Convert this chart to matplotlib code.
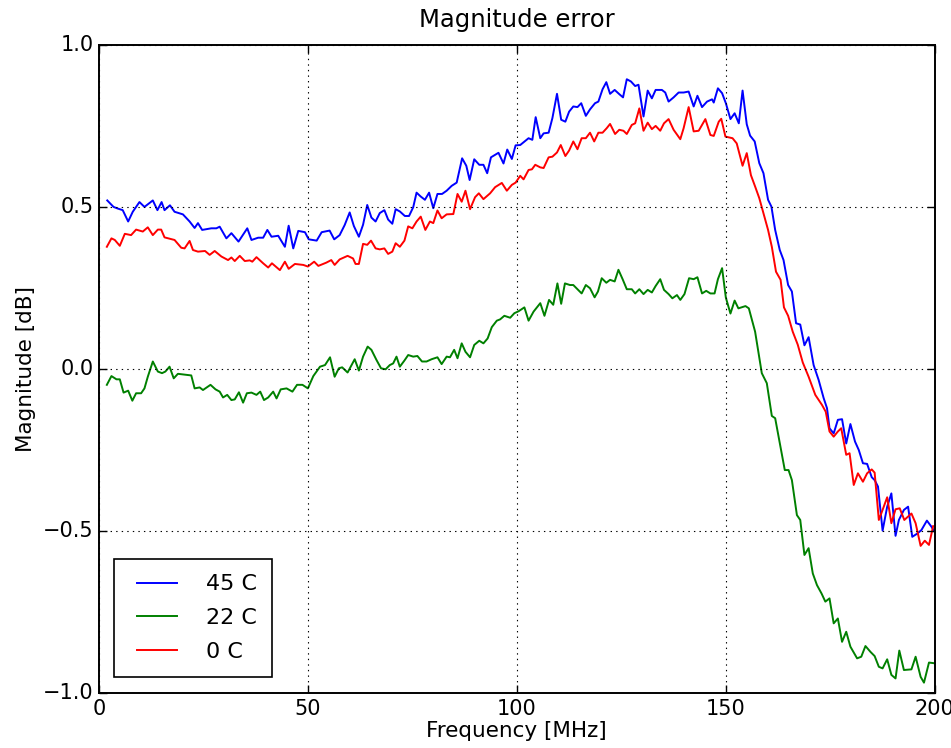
import numpy as np
import matplotlib
matplotlib.use("Agg")
import matplotlib.pyplot as plt

# Magnitude error vs frequency at three temperatures
freq_45 = [2.0, 3.5, 4.5, 5.7, 7.0, 8.1, 9.7, 10.9, 12.9, 14.0, 15.0, 15.7, 17.0, 18.1, 20.1, 21.7,
           22.9, 23.7, 24.7, 26.9, 28.1, 28.9, 30.5, 31.7, 33.4, 35.5, 36.5, 38.1, 39.3, 40.3, 41.3,
           42.9, 44.5, 45.4, 46.5, 47.7, 49.3, 50.2, 52.1, 53.3, 55.2, 56.3, 57.6, 58.8, 60.0, 61.0,
           62.2, 63.2, 64.2, 65.2, 66.2, 67.2, 68.3, 69.2, 70.2, 71.0, 72.0, 73.2, 74.2, 75.2, 76.0,
           77.0, 78.0, 79.0, 80.0, 81.0, 82.1, 83.2, 84.4, 85.6, 86.9, 87.9, 88.7, 89.8, 91.0, 92.0,
           92.9, 93.8, 95.6, 96.8, 97.7, 98.8, 99.7, 100.8, 102.8, 103.7, 104.5, 105.6, 106.4, 107.6,
           108.5, 109.6, 110.6, 111.6, 112.5, 113.5, 114.5, 115.4, 116.5, 117.5, 118.7, 119.5, 120.5,
           121.4, 122.3, 123.4, 124.5, 125.4, 126.3, 127.3, 128.3, 129.1, 130.3, 131.3, 132.3, 133.2,
           134.7, 135.5, 136.3, 137.5, 138.7, 139.9, 141.1, 142.3, 143.2, 144.3, 145.5, 146.7, 147.1,
           148.1, 149.1, 150.0, 151.1, 152.1, 153.1, 154.0, 155.0, 155.8, 156.9, 158.0, 159.0, 160.1,
           160.9, 161.8, 162.9, 163.8, 164.9, 165.8, 166.8, 167.8, 168.8, 169.8, 171.0, 172.2, 173.4,
           174.2, 174.8, 175.8, 176.8, 177.8, 178.8, 179.8, 180.9, 181.8, 182.8, 183.8, 184.9, 185.6,
           186.4, 187.5, 188.6, 189.6, 190.6, 191.4, 192.6, 193.6, 194.6, 195.8, 196.8, 198.1, 199.2,
           199.8]
mag_45 = [0.52, 0.50, 0.495, 0.49, 0.455, 0.485, 0.515, 0.50, 0.52, 0.49, 0.515, 0.49, 0.505, 0.485,
          0.477, 0.455, 0.435, 0.45, 0.429, 0.434, 0.434, 0.439, 0.403, 0.419, 0.393, 0.434, 0.398,
          0.405, 0.405, 0.429, 0.408, 0.411, 0.377, 0.442, 0.372, 0.426, 0.422, 0.40, 0.396, 0.422,
          0.427, 0.40, 0.413, 0.444, 0.483, 0.441, 0.408, 0.445, 0.506, 0.467, 0.455, 0.481, 0.49,
          0.461, 0.448, 0.493, 0.486, 0.472, 0.472, 0.499, 0.544, 0.532, 0.522, 0.544, 0.496, 0.54,
          0.54, 0.55, 0.565, 0.575, 0.65, 0.627, 0.583, 0.647, 0.63, 0.63, 0.604, 0.653, 0.667, 0.634,
          0.677, 0.648, 0.69, 0.691, 0.712, 0.707, 0.777, 0.712, 0.727, 0.729, 0.774, 0.849, 0.769,
          0.763, 0.794, 0.81, 0.808, 0.82, 0.781, 0.801, 0.82, 0.825, 0.863, 0.885, 0.849, 0.861,
          0.848, 0.838, 0.894, 0.887, 0.873, 0.877, 0.779, 0.859, 0.835, 0.861, 0.861, 0.853, 0.825,
          0.838, 0.853, 0.853, 0.856, 0.81, 0.843, 0.808, 0.825, 0.832, 0.822, 0.866, 0.851, 0.82,
          0.771, 0.789, 0.758, 0.859, 0.755, 0.72, 0.702, 0.635, 0.604, 0.522, 0.501, 0.429, 0.367,
          0.336, 0.259, 0.239, 0.141, 0.137, 0.073, 0.098, 0.012, -0.034, -0.09, -0.121, -0.183,
          -0.199, -0.157, -0.155, -0.23, -0.17, -0.224, -0.25, -0.291, -0.293, -0.334, -0.343,
          -0.363, -0.499, -0.425, -0.384, -0.515, -0.466, -0.435, -0.425, -0.518, -0.508, -0.497,
          -0.468, -0.487, -0.50]

freq_22 = [1.9, 3.0, 4.2, 5.0, 5.9, 7.0, 8.0, 8.9, 10.1, 10.9, 11.7, 12.9, 14.1, 15.1, 15.9, 16.9,
           17.9, 18.9, 21.3, 22.1, 22.9, 24.1, 24.9, 26.7, 27.9, 28.9, 29.7, 30.7, 31.7, 32.5, 33.5,
           34.5, 35.4, 36.5, 37.7, 38.6, 39.5, 40.5, 41.7, 42.5, 43.5, 44.9, 46.3, 47.4, 48.7, 50.0,
           51.3, 52.9, 54.1, 55.3, 56.4, 57.4, 58.2, 59.5, 61.2, 62.2, 63.2, 64.3, 65.2, 66.4, 67.5,
           68.6, 69.6, 70.4, 71.2, 72.0, 73.1, 74.0, 75.2, 76.2, 77.3, 78.4, 79.6, 81.0, 82.0, 83.2,
           84.0, 85.0, 85.8, 86.8, 87.7, 88.8, 89.8, 91.0, 92.0, 93.0, 94.0, 95.2, 96.0, 97.0, 98.4,
           99.4, 100.4, 101.8, 102.8, 104.0, 105.6, 106.6, 107.7, 108.7, 109.7, 110.6, 111.5, 112.7,
           113.5, 115.5, 116.5, 117.5, 118.6, 119.4, 120.3, 121.4, 122.3, 123.4, 124.3, 125.3, 126.3,
           127.5, 128.3, 129.3, 130.3, 131.3, 132.3, 133.2, 134.3, 135.2, 136.3, 137.2, 138.3, 139.1,
           140.1, 141.2, 142.3, 143.2, 144.3, 145.3, 146.3, 147.3, 148.1, 149.1, 150.0, 151.1, 152.1,
           153.0, 154.7, 155.5, 157.0, 158.6, 159.8, 161.0, 161.8, 163.0, 164.1, 165.0, 165.8, 167.0,
           167.8, 168.8, 169.8, 170.8, 171.8, 172.9, 173.8, 174.8, 175.8, 176.8, 177.8, 178.8, 179.8,
           181.4, 182.4, 183.4, 184.6, 185.6, 186.6, 187.5, 188.6, 189.6, 190.6, 191.5, 192.6, 194.4,
           195.4, 196.6, 197.4, 198.6, 199.8]
mag_22 = [-0.049, -0.022, -0.032, -0.032, -0.073, -0.067, -0.098, -0.075, -0.075, -0.06, -0.024,
          0.023, -0.008, -0.013, -0.008, 0.007, -0.029, -0.015, -0.019, -0.02, -0.06, -0.057, -0.065,
          -0.049, -0.063, -0.07, -0.088, -0.08, -0.096, -0.094, -0.072, -0.104, -0.075, -0.073, -0.08,
          -0.07, -0.096, -0.088, -0.07, -0.091, -0.063, -0.06, -0.07, -0.049, -0.049, -0.06, -0.022,
          0.007, 0.012, 0.036, -0.024, 0.002, 0.005, -0.011, 0.03, -0.005, 0.038, 0.069, 0.059, 0.028,
          0.002, -0.001, 0.012, 0.017, 0.038, 0.007, 0.026, 0.043, 0.038, 0.04, 0.023, 0.023, 0.03,
          0.036, 0.015, 0.038, 0.036, 0.059, 0.033, 0.079, 0.053, 0.036, 0.074, 0.087, 0.079, 0.094,
          0.129, 0.149, 0.153, 0.164, 0.158, 0.172, 0.178, 0.19, 0.149, 0.177, 0.203, 0.164, 0.213,
          0.198, 0.264, 0.201, 0.264, 0.259, 0.259, 0.233, 0.259, 0.249, 0.221, 0.239, 0.28, 0.266,
          0.275, 0.27, 0.306, 0.277, 0.246, 0.246, 0.233, 0.246, 0.231, 0.244, 0.236, 0.256, 0.277,
          0.244, 0.231, 0.218, 0.228, 0.213, 0.231, 0.28, 0.277, 0.283, 0.233, 0.241, 0.233, 0.233,
          0.277, 0.311, 0.22, 0.171, 0.211, 0.187, 0.194, 0.187, 0.115, -0.013, -0.044, -0.145,
          -0.152, -0.235, -0.312, -0.312, -0.343, -0.451, -0.466, -0.574, -0.553, -0.631, -0.667,
          -0.693, -0.718, -0.708, -0.785, -0.77, -0.842, -0.811, -0.857, -0.893, -0.888, -0.855,
          -0.873, -0.886, -0.919, -0.924, -0.896, -0.944, -0.955, -0.869, -0.929, -0.927, -0.888,
          -0.95, -0.968, -0.906, -0.908]

freq_0 = [1.9, 3.0, 3.8, 5.0, 6.2, 7.7, 8.9, 10.5, 11.7, 12.9, 14.1, 14.9, 15.7, 18.1, 19.7, 20.5,
          21.7, 22.5, 23.7, 25.4, 26.5, 27.7, 29.3, 30.9, 31.7, 32.5, 33.7, 34.9, 36.1, 36.7, 37.7,
          39.3, 40.5, 41.4, 43.3, 44.5, 45.4, 46.9, 48.9, 50.0, 51.5, 52.5, 54.4, 55.6, 56.4, 57.6,
          59.5, 60.8, 61.4, 62.2, 63.2, 64.2, 65.1, 66.2, 67.2, 68.3, 69.2, 70.2, 71.0, 72.0, 73.1,
          74.0, 75.0, 76.0, 77.0, 78.1, 79.2, 80.0, 81.0, 82.0, 83.2, 84.8, 85.8, 86.8, 87.7, 88.8,
          90.0, 90.9, 92.0, 93.6, 94.8, 96.4, 97.6, 98.8, 99.7, 100.8, 101.6, 102.8, 103.6, 104.4,
          105.6, 106.4, 107.6, 108.5, 109.6, 110.5, 111.6, 112.5, 113.5, 114.5, 115.5, 116.5, 117.5,
          118.5, 119.5, 120.5, 121.5, 122.3, 123.5, 124.5, 125.5, 126.3, 127.5, 128.3, 129.3, 130.3,
          131.3, 132.3, 133.2, 134.3, 135.2, 136.3, 137.5, 139.1, 139.9, 141.1, 142.3, 143.5, 145.1,
          146.3, 147.1, 148.3, 148.9, 149.9, 151.6, 152.6, 154.0, 155.0, 156.0, 157.0, 158.0, 159.0,
          160.1, 161.0, 162.0, 163.1, 163.9, 164.9, 166.0, 167.2, 168.4, 169.8, 171.4, 173.0, 173.9,
          174.8, 175.8, 176.8, 177.6, 178.8, 179.6, 180.6, 181.6, 182.8, 183.8, 184.9, 185.6, 186.6,
          187.5, 188.6, 189.6, 190.6, 191.6, 192.7, 194.4, 195.4, 196.6, 197.6, 198.6, 199.6]
mag_0 = [0.377, 0.403, 0.398, 0.38, 0.417, 0.413, 0.43, 0.424, 0.437, 0.413, 0.43, 0.43, 0.406,
         0.398, 0.374, 0.372, 0.395, 0.367, 0.362, 0.364, 0.352, 0.364, 0.347, 0.336, 0.344, 0.333,
         0.349, 0.333, 0.335, 0.331, 0.345, 0.326, 0.313, 0.326, 0.305, 0.331, 0.309, 0.324, 0.321,
         0.316, 0.331, 0.318, 0.328, 0.336, 0.321, 0.338, 0.349, 0.341, 0.324, 0.324, 0.386, 0.383,
         0.396, 0.372, 0.369, 0.372, 0.355, 0.362, 0.388, 0.377, 0.396, 0.44, 0.434, 0.455, 0.47,
         0.429, 0.455, 0.45, 0.489, 0.465, 0.477, 0.478, 0.54, 0.516, 0.55, 0.493, 0.53, 0.542, 0.524,
         0.542, 0.561, 0.574, 0.55, 0.568, 0.575, 0.596, 0.585, 0.614, 0.616, 0.63, 0.622, 0.62,
         0.653, 0.655, 0.668, 0.691, 0.657, 0.674, 0.702, 0.678, 0.712, 0.712, 0.729, 0.702, 0.729,
         0.729, 0.743, 0.756, 0.725, 0.738, 0.735, 0.725, 0.753, 0.758, 0.804, 0.735, 0.76, 0.74,
         0.75, 0.735, 0.758, 0.771, 0.738, 0.709, 0.743, 0.808, 0.733, 0.735, 0.771, 0.722, 0.719,
         0.763, 0.772, 0.717, 0.712, 0.696, 0.627, 0.666, 0.598, 0.563, 0.527, 0.48, 0.429, 0.377,
         0.30, 0.275, 0.19, 0.164, 0.115, 0.075, 0.02, -0.024, -0.08, -0.111, -0.132, -0.193, -0.209,
         -0.193, -0.183, -0.265, -0.26, -0.358, -0.322, -0.348, -0.322, -0.31, -0.32, -0.466, -0.435,
         -0.396, -0.476, -0.433, -0.43, -0.466, -0.446, -0.476, -0.546, -0.53, -0.543, -0.485]

series = [(freq_45, mag_45, "b", "45 C"),
          (freq_22, mag_22, "g", "22 C"),
          (freq_0, mag_0, "r", "0 C")]

plt.style.use("classic")
plt.rcParams["figure.facecolor"] = "white"
plt.rcParams["savefig.facecolor"] = "white"

fig = plt.figure(figsize=(9.51, 7.48), dpi=100)
ax = fig.add_axes([0.104, 0.0735, 0.879, 0.8665])

for f, m, c, lab in series:
    ax.plot(np.array(f), np.array(m), color=c, lw=1.4, label=lab)

ax.set_xlim(0, 200)
ax.set_ylim(-1.0, 1.0)
ax.set_xticks([0, 50, 100, 150, 200])
ax.set_yticks([-1.0, -0.5, 0.0, 0.5, 1.0])
ax.tick_params(labelsize=15, length=6, width=1)
ax.grid(True, color="k", linestyle=":", linewidth=0.8)
for sp in ax.spines.values():
    sp.set_linewidth(1.4)

ax.set_title("Magnitude error", fontsize=17.5, pad=13)
ax.set_xlabel("Frequency [MHz]", fontsize=15.5, labelpad=2)
ax.set_ylabel("Magnitude [dB]", fontsize=15.5)

leg = ax.legend(loc="lower left", fontsize=16, frameon=True, fancybox=False,
                handlelength=2.4, handletextpad=1.0, labelspacing=0.62,
                borderpad=0.7, borderaxespad=0.7)
leg.get_frame().set_edgecolor("k")
leg.get_frame().set_linewidth(1.2)

fig.savefig("out.png", dpi=100)
